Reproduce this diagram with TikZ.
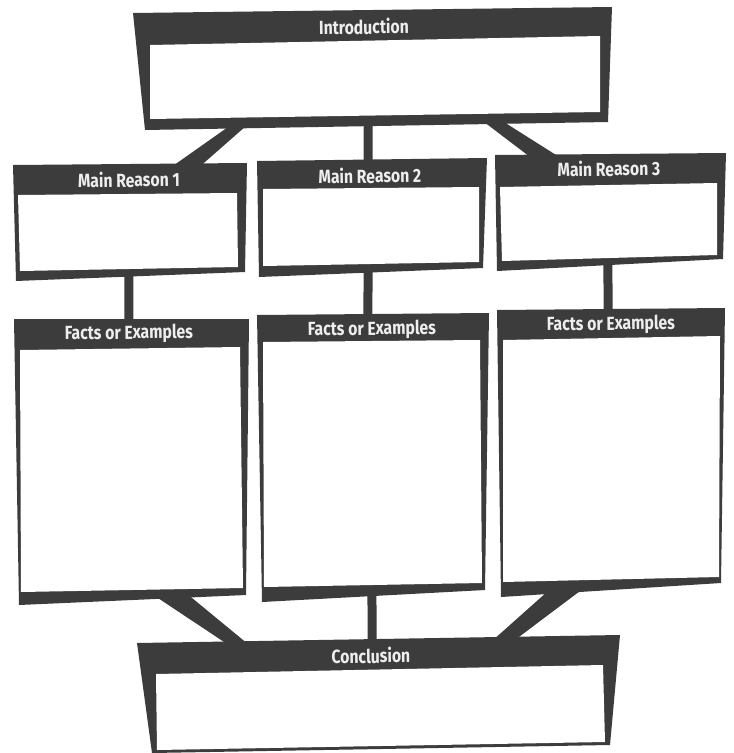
\documentclass[tikz,border=0pt]{standalone}
\usepackage{fontspec}
\newfontfamily\titlefont[FakeStretch=0.83]{Fira Sans}
\usetikzlibrary{calc}
\definecolor{boxdark}{RGB}{60,60,60}
\definecolor{titlewhite}{RGB}{238,238,238}
\tikzset{
  boxtitle/.style={anchor=base,inner sep=0pt,rotate=0.7,text=titlewhite,
    font={\titlefont\bfseries\fontsize{19}{22}\selectfont}},
  link/.style={draw=boxdark,line width=9pt,shorten <=-3pt,shorten >=-3pt}
}
\newcommand\orgbox[8]{%
  \coordinate (#1-nw) at #2;
  \coordinate (#1-ne) at #3;
  \coordinate (#1-se) at #4;
  \coordinate (#1-sw) at #5;
  \fill[boxdark] (#1-nw)--(#1-ne)--(#1-se)--(#1-sw)--cycle;
  \fill[white] #6--cycle;
  \node[boxtitle] (#1) at #7 {#8};
}

\begin{document}
\begin{tikzpicture}[x=1pt,y=-1pt]
  \useasboundingbox[fill=white] (0,0) rectangle (734,753);
  \orgbox{intro}{(133,13)}{(612,7)}{(608,122)}{(145,130)}
    {(150,45)--(600,36)--(600,112)--(150,119)}{(364,34)}{Introduction}
  \orgbox{reason1}{(13,165)}{(247,163)}{(245,272)}{(16,281)}
    {(18,195)--(237,193)--(238,267)--(20,271)}{(129,187)}{Main Reason 1}
  \orgbox{reason2}{(257,161)}{(487,158)}{(483,268)}{(259,277)}
    {(263,189)--(479,187)--(479,262)--(263,266)}{(370,183)}{Main Reason 2}
  \orgbox{reason3}{(495,155)}{(726,153)}{(723,259)}{(497,271)}
    {(500,187)--(717,183)--(717,255)--(502,261)}{(609,176)}{Main Reason 3}
  \orgbox{facts1}{(14,319)}{(249,319)}{(246,595)}{(19,605)}
    {(20,350)--(240,347)--(243,588)--(21,592)}{(129,339)}{Facts or Examples}
  \orgbox{facts2}{(257,315)}{(489,313)}{(485,590)}{(262,602)}
    {(263,342)--(480,340)--(482,583)--(264,587)}{(372,335)}{Facts or Examples}
  \orgbox{facts3}{(497,310)}{(725,308)}{(721,583)}{(501,597)}
    {(503,340)--(720,336)--(719,577)--(503,582)}{(611,330)}{Facts or Examples}
  \orgbox{concl}{(137,643)}{(620,635)}{(610,745)}{(152,753)}
    {(156,674)--(603,665)--(605,742)--(157,750)}{(371,663)}{Conclusion}
  \fill[boxdark] ($(intro-sw)!0.184!(intro-se)+(0,-3)$)
    --($(intro-sw)!0.220!(intro-se)+(0,-3)$)
    --($(reason1-nw)!0.799!(reason1-ne)+(0,3)$)
    --($(reason1-nw)!0.679!(reason1-ne)+(0,3)$)--cycle;
  \draw[link] ($(intro-sw)!0.482!(intro-se)$)--($(reason2-nw)!0.483!(reason2-ne)$);
  \fill[boxdark] ($(intro-sw)!0.730!(intro-se)+(0,-3)$)
    --($(intro-sw)!0.771!(intro-se)+(0,-3)$)
    --($(reason3-nw)!0.281!(reason3-ne)+(0,3)$)
    --($(reason3-nw)!0.156!(reason3-ne)+(0,3)$)--cycle;
  \draw[link] ($(reason1-sw)!0.493!(reason1-se)$)--($(facts1-nw)!0.489!(facts1-ne)$);
  \draw[link] ($(reason2-sw)!0.487!(reason2-se)$)--($(facts2-nw)!0.478!(facts2-ne)$);
  \draw[link] ($(reason3-sw)!0.491!(reason3-se)$)--($(facts3-nw)!0.487!(facts3-ne)$);
  \fill[boxdark] ($(facts1-sw)!0.599!(facts1-se)+(0,-3)$)
    --($(facts1-sw)!0.744!(facts1-se)+(0,-3)$)
    --($(concl-nw)!0.230!(concl-ne)+(0,3)$)
    --($(concl-nw)!0.188!(concl-ne)+(0,3)$)--cycle;
  \draw[link] ($(facts2-sw)!0.493!(facts2-se)$)--($(concl-nw)!0.487!(concl-ne)$);
  \fill[boxdark] ($(facts3-sw)!0.214!(facts3-se)+(0,-3)$)
    --($(facts3-sw)!0.373!(facts3-se)+(0,-3)$)
    --($(concl-nw)!0.783!(concl-ne)+(0,3)$)
    --($(concl-nw)!0.737!(concl-ne)+(0,3)$)--cycle;
\end{tikzpicture}
\end{document}
